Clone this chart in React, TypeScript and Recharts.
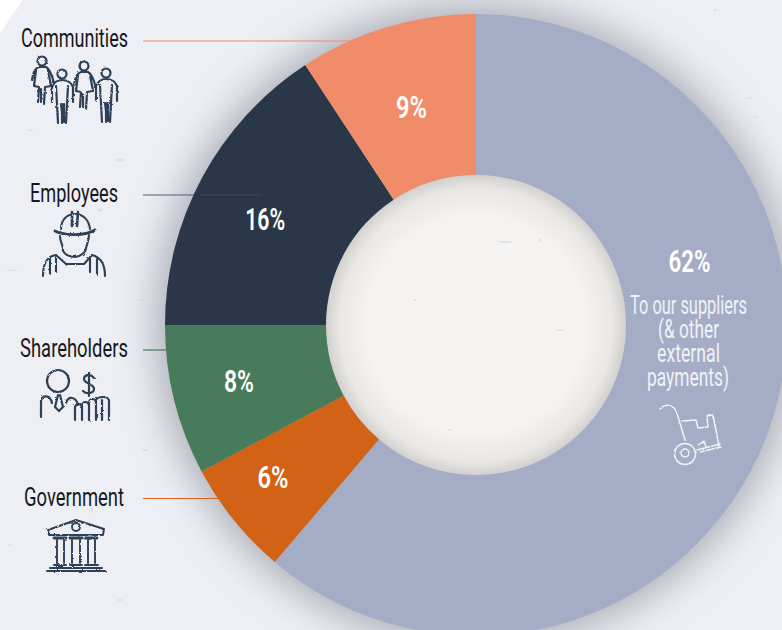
import React from "react";
import { PieChart, Pie, Cell } from "recharts";

const categories = ["To our suppliers", "Government", "Shareholders", "Employees", "Communities"];
const shares = [61.2, 6, 7.8, 15.75, 9.25];
const printedPercents = [62, 6, 8, 16, 9];
const sliceColors = ["#a5adc6", "#d16216", "#477b59", "#2a3749", "#f08c69"];
const sideLabels = ["Communities", "Employees", "Shareholders", "Government"];
const supplierNote = ["To our suppliers", "(& other", "external", "payments)"];

const W = 782, H = 630, CX = 476, CY = 325, OUTER = 311, INNER = 150;
const FONT = "Roboto, 'Liberation Sans', sans-serif";
const INK = "#2e3f56";

const data = categories.map((name, i) => ({ name, value: shares[i] }));

const measure = (t: string, size: number, weight: number) => {
  const ctx = document.createElement("canvas").getContext("2d") as CanvasRenderingContext2D;
  ctx.font = `${weight} ${size}px Roboto`;
  return ctx.measureText(t).width || 1;
};

const Fit = ({ x, y, len, size, weight = 400, fill, children }: any) => (
  <text
    transform={`translate(${x} ${y}) scale(${len / measure(String(children), size, weight)} 1)`}
    textAnchor="middle"
    fontFamily={FONT}
    fontSize={size}
    fontWeight={weight}
    fill={fill}
  >
    {children}
  </text>
);

// label placement relative to each slice's mid-ring point: dx, dy, drawn width
const nudge: Record<string, [number, number, number]> = {
  "To our suppliers": [-3, -143.6, 42],
  Government: [-23.6, 7, 31],
  Shareholders: [-13.4, 0, 30],
  Employees: [-8, 3.5, 40],
  Communities: [1.5, 3, 31],
};

const renderLabel = (p: any) => {
  const r = (p.innerRadius + p.outerRadius) / 2;
  const a = (-p.midAngle * Math.PI) / 180;
  const [dx, dy, len] = nudge[p.name];
  return (
    <Fit
      x={p.cx + r * Math.cos(a) + dx}
      y={p.cy + r * Math.sin(a) + dy + 11}
      len={len}
      size={31}
      weight={600}
      fill="#ffffff"
    >
      {`${printedPercents[categories.indexOf(p.name)]}%`}
    </Fit>
  );
};

const Woman = ({ x, y }: { x: number; y: number }) => (
  <g transform={`translate(${x} ${y})`}>
    <circle r={4.5} />
    <path d="M-10 19 C-9 11 -7 7 -3 6 L4 6 C8 8 10 14 12 22 M-6 9 L-8 25 L-3 26 L-4 41 M6 9 L9 25 L3 26 L2 43 M-1 28 L-1 41" />
  </g>
);
const Man = ({ x, y }: { x: number; y: number }) => (
  <g transform={`translate(${x} ${y})`}>
    <circle r={4.5} />
    <path d="M-10 28 L-10 13 C-8 8 -4 6 0 6 C5 6 9 8 11 13 L11 28 M-6 12 L-5 30 L-4 49 M6 12 L5 30 L4 49 M0 30 L0 49 M-1 30 L1 46 M2 30 L2 48" />
  </g>
);

const specks = [
  [120, 160, 7, 2], [100, 210, 5, 3], [140, 300, 6, 1.5], [30, 130, 7, 1.5], [12, 270, 9, 1.5], [145, 450, 6, 2],
  [92, 510, 2, 5], [10, 545, 4, 2], [120, 600, 8, 1.5], [715, 10, 3, 2], [750, 98, 5, 1.5], [755, 117, 3, 2],
  [505, 242, 14, 2], [450, 430, 4, 2], [415, 300, 4, 2], [560, 330, 9, 1.5], [540, 240, 3, 2], [360, 25, 8, 1.5],
];

export default function App() {
  return (
    <div style={{ position: "absolute", left: 0, top: 0, width: W, height: H, overflow: "hidden", background: "#eeeff4" }}>
      <svg width={W} height={H} style={{ position: "absolute", left: 0, top: 0 }}>
        <defs>
          <filter id="soft" x="-30%" y="-30%" width="160%" height="160%">
            <feGaussianBlur stdDeviation="20" />
          </filter>
          <radialGradient id="hole" cx="50%" cy="50%" r="50%">
            <stop offset="0%" stopColor="#f5f4f2" />
            <stop offset="72%" stopColor="#f4f3f1" />
            <stop offset="90%" stopColor="#e9e8e6" />
            <stop offset="100%" stopColor="#d0cfcd" />
          </radialGradient>
        </defs>
        <polygon points="0,0 23,0 0,33" fill="#ffffff" />
        <circle cx={CX} cy={CY} r={OUTER + 8} fill="#777c88" opacity={0.6} filter="url(#soft)" />
        <circle cx={CX} cy={CY} r={INNER + 1} fill="url(#hole)" />
        {specks.map(([x, y, w, h], i) => (
          <ellipse key={i} cx={x} cy={y} rx={w / 2} ry={h / 2} fill="#cfd0d5" opacity={0.5} />
        ))}
        <line x1={143} x2={352} y1={41} y2={41} stroke="#f08c69" strokeWidth={1.2} />
        <line x1={143} x2={200} y1={195} y2={195} stroke="#4c6076" strokeWidth={1.2} />
        <line x1={143} x2={170} y1={350} y2={350} stroke="#477b59" strokeWidth={1.2} />
        <line x1={143} x2={222} y1={498.5} y2={498.5} stroke="#d16216" strokeWidth={1.2} />
      </svg>

      <div style={{ position: "absolute", left: 0, top: 0 }}>
        <PieChart width={W} height={H} margin={{ top: 0, right: 0, bottom: 0, left: 0 }}>
          <Pie
            data={data}
            dataKey="value"
            nameKey="name"
            cx={CX}
            cy={CY}
            innerRadius={INNER}
            outerRadius={OUTER}
            startAngle={90}
            endAngle={-270}
            stroke="none"
            isAnimationActive={false}
            labelLine={false}
            label={renderLabel}
          >
            {categories.map((c, i) => (
              <Cell key={c} fill={sliceColors[i]} />
            ))}
          </Pie>
        </PieChart>
      </div>

      <svg width={W} height={H} style={{ position: "absolute", left: 0, top: 0, pointerEvents: "none" }}>
        <defs>
          <filter id="sketch" x="-10%" y="-10%" width="120%" height="120%">
            <feTurbulence type="fractalNoise" baseFrequency="0.35" numOctaves="2" seed="4" />
            <feDisplacementMap in="SourceGraphic" scale="2.4" />
          </filter>
        </defs>
        <line x1={200} x2={262} y1={195} y2={195} stroke="#3a4b60" strokeWidth={1} />
        {sideLabels.map((t, i) => (
          <Fit key={t} x={[74.5, 74, 74, 74][i]} y={[47, 202, 357, 506][i]} len={[107, 88, 108, 100][i]} size={25} fill="#15181e">
            {t}
          </Fit>
        ))}
        {supplierNote.map((t, i) => (
          <Fit key={t} x={[688.5, 688.5, 688.5, 688][i]} y={[314, 338, 362, 386][i]} len={[117, 61, 63, 82][i]} size={25} weight={400} fill="#f0f2f7">
            {t}
          </Fit>
        ))}

        <g filter="url(#sketch)">
          {/* Communities */}
          <g fill="none" stroke={INK} strokeWidth={2.2} strokeLinecap="round" strokeLinejoin="round">
            <Woman x={42} y={61} />
            <Man x={62} y={74} />
            <Woman x={84} y={66} />
            <Man x={106} y={73} />
          </g>
          {/* Employees */}
          <g fill="none" stroke={INK} strokeWidth={2.1} strokeLinecap="round" strokeLinejoin="round">
            <path d="M55 231 C65 236 85 236 95 230" strokeWidth={2.8} />
            <path d="M61 229 C61 219 68 214 75 214 C83 214 89 220 90 229" />
            <path d="M72 212 L72 226 M78 212 L77 226" strokeWidth={2.6} />
            <path d="M60 236 C60 243 64 246 63 251 C66 256 71 257 75 257 C80 257 86 252 86 248 C87 244 89 240 89 235" />
            <path d="M43 276 C43 263 48 256 56 255 L66 264 L84 264 L92 255 C100 257 105 264 105 276" />
            <path d="M50 258 L50 274 M56 257 L56 272 M90 258 L90 272 M97 259 L97 274" />
          </g>
          {/* Shareholders */}
          <g fill="none" stroke={INK} strokeWidth={2.2} strokeLinecap="round" strokeLinejoin="round">
            <circle cx={58} cy={381} r={11} />
            <path d="M41 417 L41 401 C42 395 50 394 52 403 M58 395 L55 407 L59 411 L63 407 L60 395 M66 403 C68 396 76 396 78 405" />
            <path d="M75 420 L75 407 C76 403 81 403 82 407 L82 420 M82 420 L82 405 C83 401 88 401 89 405 L89 420 M89 420 L89 402 C90 398 95 398 96 402 L96 420 M96 420 L96 400 C98 396 108 396 109 400 L109 420 M102 400 L102 420" />
            <path d="M94 378 C90 373 84 375 84 379 C84 384 94 383 94 389 C94 393 87 395 83 391 M89 372 L89 396" />
          </g>
          {/* Government */}
          <g fill="none" stroke={INK} strokeWidth={1.9} strokeLinecap="round" strokeLinejoin="round">
            <path d="M48 530 L76 520 L104 529 L103 535 L49 535 Z" />
            <circle cx={76} cy={527} r={4} />
            <path d="M54 538 L66 538 M70 538 L82 538 M85 538 L97 538" strokeWidth={2.8} />
            <path d="M57 540 L57 563 M64 540 L64 563 M72 540 L72 563 M80 540 L80 563 M88 540 L88 563 M95 540 L95 563" />
            <path d="M54 565 L66 565 M70 565 L82 565 M85 565 L98 565 M50 568 L102 568 M47 571 L105 571" />
          </g>
          {/* Cart */}
          <g fill="none" stroke="#f2f3f7" strokeWidth={1.5} strokeLinecap="round" strokeLinejoin="round">
            <circle cx={685} cy={454} r={10.5} />
            <circle cx={685} cy={453} r={4} />
            <path d="M660 409 C664 405 669 404 674 408 C678 412 681 428 685 440" />
            <path d="M682 421 L696 420 L698 428 L708 427 L707 416 L713 415 L719 446" />
            <path d="M698 445 L704 441 L706 447 M700 452 L721 447 M697 450 L720 444" />
          </g>
        </g>
      </svg>
    </div>
  );
}
